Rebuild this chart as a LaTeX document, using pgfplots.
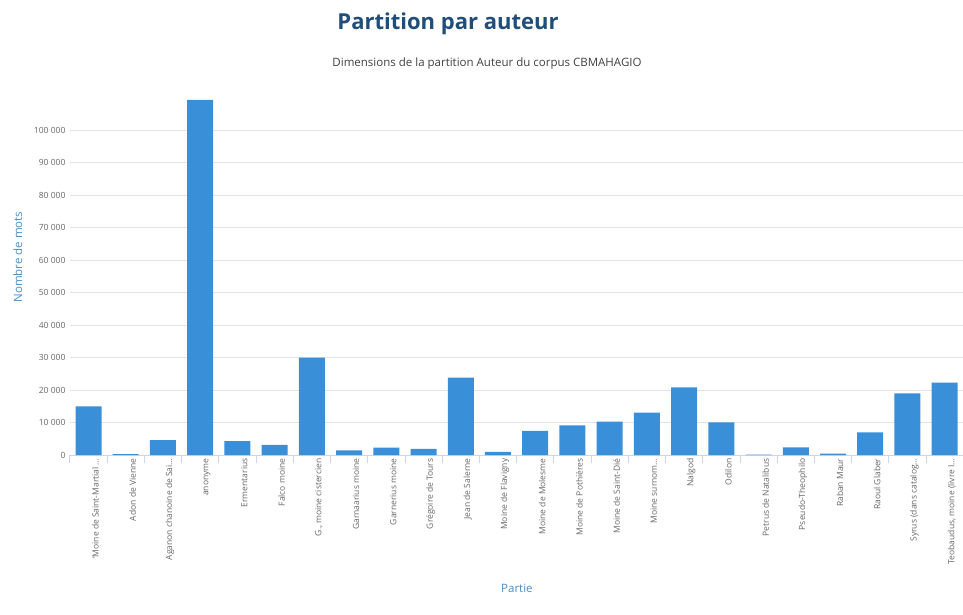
\documentclass[border=0pt]{standalone}
\usepackage{pgfplots}
\pgfplotsset{compat=1.18}
\usepackage{fontspec}
\setmainfont{Open Sans}
\definecolor{barblue}{HTML}{3A8FD9}
\definecolor{titleblue}{HTML}{1F4E7A}
\definecolor{axistitle}{HTML}{4A8CC2}
\definecolor{gridgray}{HTML}{E3E3E3}
\definecolor{axisline}{HTML}{CCD6EB}
\definecolor{ticktext}{HTML}{666666}

\pgfplotstableread{
x  mots
0  15000
1  300
2  4600
3  109300
4  4300
5  3100
6  30000
7  1400
8  2250
9  1850
10 23800
11 1000
12 7400
13 9100
14 10250
15 13050
16 20800
17 10050
18 100
19 2350
20 400
21 7000
22 19000
23 22250
}\auteurs

\begin{document}
\begin{tikzpicture}[x=1pt,y=1pt]
\begin{axis}[
    at={(0,0)}, anchor=south west,
    scale only axis,
    width=893.4pt, height=357.5pt,
    xmin=-0.5, xmax=23.5,
    ymin=0, ymax=110000,
    axis x line*=bottom, axis y line*=left,
    x axis line style={color=axisline, -},
    y axis line style={draw=none},
    ymajorgrids, grid style={gridgray, line width=0.8pt},
    ytick={0,10000,20000,30000,40000,50000,60000,70000,80000,90000,100000},
    major tick length=0pt,
    tick align=outside,
    scaled y ticks=false,
    yticklabel style={font=\fontsize{8.5}{10}\selectfont, text=ticktext, xshift=-1pt,
        /pgf/number format/.cd, fixed, 1000 sep={\ }, assume math mode=true},
    xtick={0,1,2,3,4,5,6,7,8,9,10,11,12,13,14,15,16,17,18,19,20,21,22,23},
    xticklabels={{'Moine de Saint-Martial \dots},{Adon de Vienne},{Aganon chanoine de Sai\dots},{anonyme},
        {Ermentarius},{Falco moine},{G., moine cistercien},{Garnaarius moine},{Garnerius moine},
        {Grégoire de Tours},{Jean de Salerne},{Moine de Flavigny},{Moine de Molesme},
        {Moine de Pothières},{Moine de Saint-Dié},{Moine surnom\dots},{Nalgod},{Odilon},
        {Petrus de Natalibus},{Pseudo-Theophilo},{Raban Maur},{Raoul Glaber},
        {Syrus (dans catalog\dots},{Teobaudus, moine (livre I\dots}},
    xticklabel style={font=\fontsize{8.5}{10}\selectfont, text=ticktext, rotate=90, anchor=east, yshift=-7pt},
    extra x ticks={-0.5,0.5,1.5,2.5,3.5,4.5,5.5,6.5,7.5,8.5,9.5,10.5,11.5,12.5,13.5,14.5,15.5,16.5,17.5,18.5,19.5,20.5,21.5,22.5,23.5},
    extra x tick labels={},
    extra x tick style={major tick length=8pt, tick style={axisline, line width=0.8pt}, grid=none},
]
\addplot[ybar, bar width=26pt, fill=barblue, draw=none]
    table[x=x, y=mots] {\auteurs};
\end{axis}
\node[font=\fontsize{22}{26}\bfseries, text=titleblue] at (378.1,431) {Partition par auteur};
\node[font=\fontsize{11.5}{14}\selectfont, text=black!75] at (417.1,391) {Dimensions de la partition Auteur du corpus CBMAHAGIO};
\node[font=\fontsize{11.5}{14}\selectfont, text=axistitle, rotate=90] at (-52,198) {Nombre de mots};
\node[font=\fontsize{11.5}{14}\selectfont, text=axistitle] at (447,-133) {Partie};
\pgfresetboundingbox
\path[use as bounding box] (-69.9,-159) rectangle (893.1,455);
\end{tikzpicture}
\end{document}
